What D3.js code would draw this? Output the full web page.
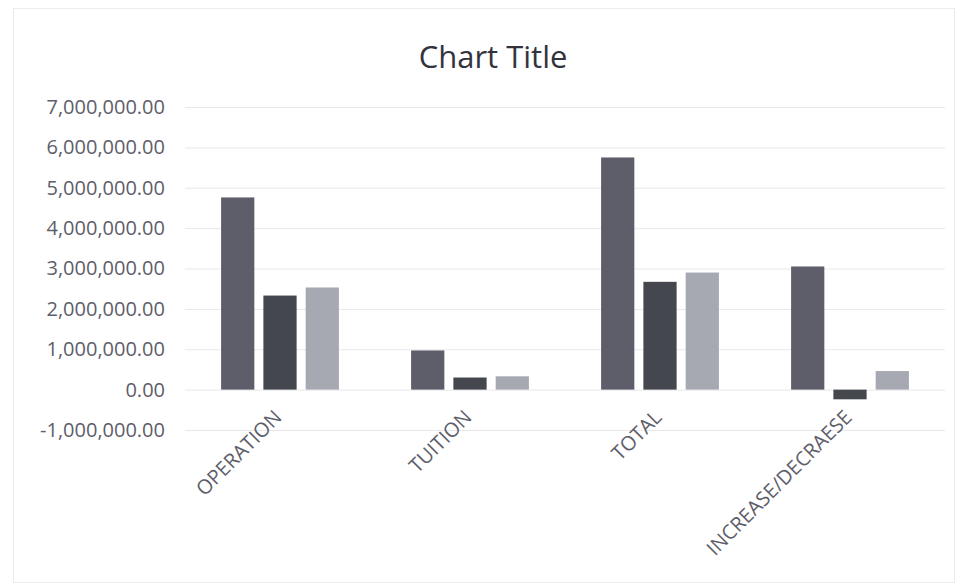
<!DOCTYPE html>
<html>
<head>
<meta charset="utf-8">
<script src="https://cdn.jsdelivr.net/npm/d3@7"></script>
<style>
  body { margin: 0; background: #fff; }
  svg text { font-family: "Open Sans", "Liberation Sans", sans-serif; }
</style>
</head>
<body>
<div id="chart"></div>
<script>
// chart data
const categories = ["OPERATION", "TUITION", "TOTAL", "INCREASE/DECRAESE"];
const seriesNames = ["Series1", "Series2", "Series3"];
const series1 = [4760000, 970000, 5750000, 3050000];
const series2 = [2330000, 300000, 2670000, -240000];
const series3 = [2530000, 330000, 2900000, 460000];
const yTicks = [-1000000, 0, 1000000, 2000000, 3000000, 4000000, 5000000, 6000000, 7000000];
const colors = ["#5d5e6a", "#45474f", "#a7a9b2"];

class BarChart {
    constructor(parentElement) {
        this.parentElement = parentElement;
        this.initVis();
    }

    initVis() {
        const vis = this;

        vis.width = 962;
        vis.height = 587;
        vis.plot = { left: 185, right: 945, top: 107, bottom: 430 };

        vis.svg = d3.select(`#${vis.parentElement}`)
            .append("svg")
            .attr("width", vis.width)
            .attr("height", vis.height);

        // faint chart frame
        vis.svg.append("rect")
            .attr("x", 13.5).attr("y", 8.5)
            .attr("width", 941).attr("height", 574)
            .attr("fill", "none")
            .attr("stroke", "#ececec");

        // title
        vis.svg.append("text")
            .attr("x", 493)
            .attr("y", 68)
            .attr("text-anchor", "middle")
            .attr("font-size", 31)
            .attr("fill", "#33333d")
            .text("Chart Title");

        // scales
        vis.x = d3.scaleBand()
            .domain(categories)
            .range([vis.plot.left, vis.plot.right])
            .paddingInner(0.38)
            .paddingOuter(0.19);

        vis.xSeries = d3.scaleBand()
            .domain(seriesNames)
            .range([0, vis.x.bandwidth()])
            .paddingInner(0.214);

        vis.y = d3.scaleLinear()
            .domain([d3.min(yTicks), d3.max(yTicks)])
            .range([vis.plot.bottom, vis.plot.top]);

        vis.wrangleData();
    }

    wrangleData() {
        const vis = this;
        const all = [series1, series2, series3];
        vis.rows = categories.map((c, i) => ({
            category: c,
            values: seriesNames.map((s, j) => ({ series: s, value: all[j][i], color: colors[j] }))
        }));
        vis.updateVis();
    }

    updateVis() {
        const vis = this;
        // excel style number, plain hyphen for negatives
        const fmt = d => (d < 0 ? "-" : "") + d3.format(",.2f")(Math.abs(d));

        // gridlines
        vis.svg.append("g")
            .attr("class", "grid")
            .attr("transform", `translate(${vis.plot.left},0)`)
            .call(d3.axisLeft(vis.y).tickValues(yTicks)
                .tickSize(-(vis.plot.right - vis.plot.left)).tickFormat(""))
            .call(g => g.select(".domain").remove())
            .call(g => g.selectAll("line").attr("stroke", "#e8e8eb"));

        // y axis labels
        vis.svg.append("g")
            .attr("class", "y-axis")
            .attr("transform", `translate(168,0)`)
            .call(d3.axisLeft(vis.y).tickValues(yTicks).tickSize(0).tickFormat(fmt))
            .call(g => g.select(".domain").remove())
            .call(g => g.selectAll("text")
                .attr("font-size", 20)
                .attr("fill", "#5e5e6a"));

        // bars
        const groups = vis.svg.selectAll(".group")
            .data(vis.rows)
            .enter()
            .append("g")
            .attr("class", "group")
            .attr("transform", d => `translate(${vis.x(d.category)},0)`);

        groups.selectAll("rect")
            .data(d => d.values)
            .enter()
            .append("rect")
            .attr("x", d => vis.xSeries(d.series))
            .attr("y", d => vis.y(Math.max(0, d.value)))
            .attr("width", vis.xSeries.bandwidth())
            .attr("height", d => Math.abs(vis.y(d.value) - vis.y(0)))
            .attr("fill", d => d.color);

        // category labels, rotated
        vis.svg.append("g")
            .attr("class", "x-labels")
            .selectAll("text")
            .data(categories)
            .enter()
            .append("text")
            .attr("transform", d => `translate(${vis.x(d) + vis.x.bandwidth() / 2 + 3},${vis.y(0) + 29}) rotate(-45)`)
            .attr("text-anchor", "end")
            .attr("font-size", 20)
            .attr("fill", "#5e5e6a")
            .text(d => d);
    }
}

new BarChart("chart");
</script>
</body>
</html>
